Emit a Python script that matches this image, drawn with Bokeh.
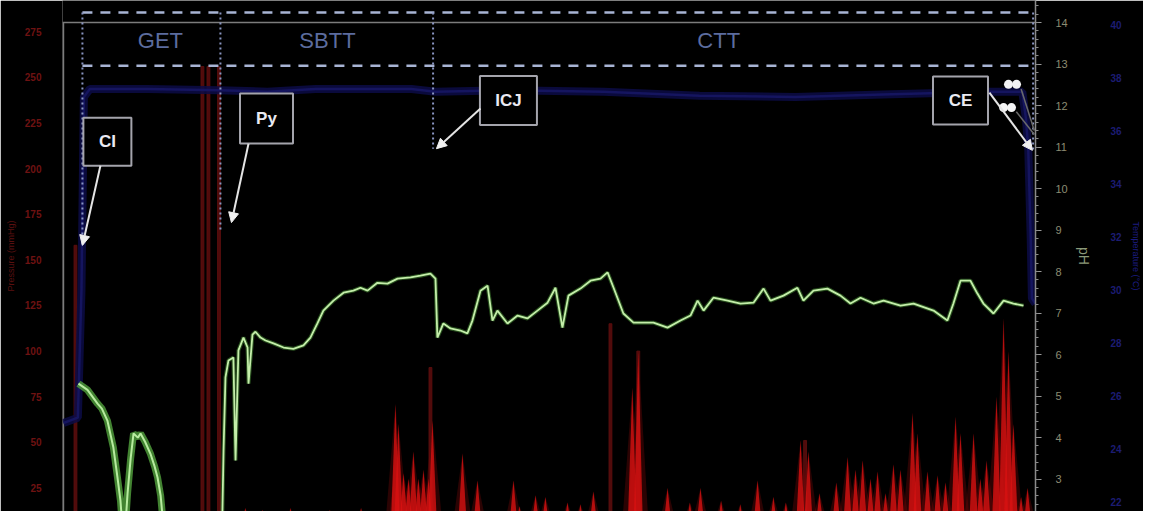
from bokeh.plotting import figure
from bokeh.models import (Range1d, LinearAxis, SingleIntervalTicker, Arrow,
                          NormalHead, ColumnDataSource)
from bokeh.embed import file_html
from bokeh.resources import INLINE
from bokeh.core.properties import value

# ---------------- data ----------------
# time in hours, pH values (green trace)
get_t = [0.125, 0.5, 0.92, 1.1, 1.33, 1.58, 1.75, 1.875, 2.0, 2.05, 2.17, 2.3,
         2.42, 2.6, 2.71, 2.9, 3.125, 3.3, 3.42, 3.55, 3.67, 3.8]
get_ph = [5.30, 5.15, 4.82, 4.70, 4.41, 3.76, 3.04, 2.48, 1.5, 1.6, 2.65, 3.5,
          4.10, 4.00, 4.10, 3.90, 3.61, 3.30, 3.04, 2.60, 1.83, 1.2]

ph_t = [6.1, 6.17, 6.25, 6.375, 6.58, 6.67, 6.79, 7.0, 7.17, 7.21, 7.375, 7.5,
        7.71, 7.92, 8.25, 8.67, 9.08, 9.5, 9.79, 10.08, 10.33, 10.75, 11.17,
        11.58, 11.875, 12.17, 12.58, 13.0, 13.42, 13.96, 14.375, 14.79, 15.0,
        15.08, 15.33, 15.625, 16.04, 16.33, 16.54, 16.875, 17.17, 17.375, 17.58,
        18.0, 18.42, 18.83, 19.25, 19.67, 20.0, 20.29, 20.54, 21.04, 21.46,
        21.875, 22.17, 22.42, 22.83, 23.25, 24.08, 24.67, 25.21, 25.625, 25.92,
        26.17, 26.58, 27.17, 27.71, 28.25, 28.67, 28.96, 29.5, 30.08, 30.33,
        30.75, 31.33, 31.875, 32.29, 32.71, 33.25, 33.67, 34.375, 34.92, 35.75,
        36.33, 36.58, 36.875, 37.29, 37.58, 37.83, 38.25, 38.67, 39.08, 39.5]
ph_v = [1.5, 3.69, 5.45, 5.86, 5.93, 3.45, 6.10, 6.41, 6.17, 5.30, 6.48, 6.55,
        6.41, 6.34, 6.27, 6.17, 6.14, 6.22, 6.41, 6.75, 7.06, 7.30, 7.49,
        7.54, 7.61, 7.54, 7.73, 7.71, 7.83, 7.86, 7.90, 7.95, 7.83,
        6.41, 6.75, 6.63, 6.58, 6.51, 6.82, 7.54, 7.66, 6.82, 7.06,
        6.75, 6.94, 6.87, 7.06, 7.25, 7.61, 6.65, 7.42, 7.59, 7.78,
        7.83, 7.98, 7.61, 6.99, 6.77, 6.77, 6.65, 6.82, 6.94, 7.30,
        7.06, 7.37, 7.30, 7.23, 7.25, 7.59, 7.30, 7.42, 7.61, 7.30,
        7.54, 7.59, 7.42, 7.23, 7.37, 7.23, 7.30, 7.18, 7.23, 7.06,
        6.82, 7.23, 7.78, 7.78, 7.47, 7.23, 6.99, 7.30, 7.23, 7.18]

# temperature (deg C, blue trace)
temp_t = [-0.5, 0.1, 0.25, 0.35, 0.6, 3.0, 6.0, 8.0, 10.0, 14.0, 15.0, 18.0,
          22.0, 26.0, 30.0, 34.0, 38.0, 39.45, 39.6, 39.7, 39.8, 39.85, 40.0]
temp_v = [25.0, 25.2, 30.0, 37.3, 37.6, 37.6, 37.55, 37.5, 37.6, 37.6, 37.5,
          37.55, 37.5, 37.35, 37.3, 37.4, 37.5, 37.5, 36.5, 35.3, 32.0, 29.7, 29.5]

# pressure spikes (mmHg)
press_t = [7.08, 7.79, 8.96, 10.6, 11.9, 13.33, 13.46, 13.67, 13.875, 14.08,
           14.29, 14.5, 14.71, 14.875, 16.125, 16.75, 18.25, 18.5, 19.17, 19.58,
           20.5, 21.04, 21.58, 23.2, 23.45, 24.67, 25.6, 26.04, 26.9, 27.7,
           28.42, 29.08, 29.6, 30.21, 30.54, 31.0, 31.7, 32.17, 32.5, 32.8,
           33.125, 33.42, 33.75, 34.08, 34.375, 34.875, 35.08, 35.5, 35.92,
           36.25, 36.67, 36.875, 37.42, 37.7, 37.96, 38.375, 38.67, 38.875,
           39.08, 39.4, 39.67]
press_v = [14.0, 13.0, 14.0, 13.0, 14.0, 71.0, 60.0, 33.0, 30.0, 45.0,
           30.0, 35.0, 30.0, 62.0, 44.0, 29.0, 29.0, 15.0, 21.0, 20.0,
           17.0, 16.0, 23.0, 80.0, 100.0, 25.0, 17.0, 25.0, 18.0, 16.0,
           29.0, 20.0, 17.0, 51.0, 45.0, 22.0, 28.0, 42.0, 35.0, 40.0,
           30.0, 34.0, 22.0, 38.0, 35.0, 66.0, 55.0, 34.0, 32.0,
           28.0, 64.0, 55.0, 55.0, 30.0, 40.0, 75.0, 118.0, 100.0,
           60.0, 20.0, 25.0]
dim_t = [0.0, 5.29, 5.54, 5.98, 14.79, 22.29, 23.45, 30.4]
dim_v = [158.0, 256.0, 256.0, 256.0, 91.0, 115.0, 100.0, 51.0]

# phases and events
phase_names = ["GET", "SBTT", "CTT"]
phase_t = [3.54, 10.5, 26.8]
phase_ph = [13.57, 13.57, 13.57]

event_names = ["CI", "Py", "ICJ", "CE"]
event_t = [0.29, 6.04, 14.9, 39.9]
event_bottom = [8.63, 9.0, 10.96, 10.9]
box_t = [1.33, 7.96, 18.04, 36.875]
box_ph = [11.13, 11.69, 12.12, 12.12]
arrow_t0 = [1.04, 7.21, 16.875, 38.08]
arrow_ph0 = [10.55, 11.08, 11.93, 12.31]
arrow_t1 = [0.29, 6.5, 15.04, 39.87]
arrow_ph1 = [8.63, 9.18, 10.96, 10.92]
ce_mark_t = [38.875, 39.21, 38.67, 39.0]
ce_mark_ph = [12.51, 12.51, 11.95, 11.95]

ph_label = "pH"
press_label = "Pressure (mmHg)"
temp_label = "Temperature (°C)"

# ---------------- figure ----------------
X0, X1 = -0.54, 40.0
PH0, PH1 = 2.22, 14.53
p = figure(width=1143, height=511, output_backend="svg", toolbar_location=None,
           x_range=Range1d(X0, X1), y_range=Range1d(PH0, PH1),
           x_axis_location=None, y_axis_location=None,
           background_fill_color="black", border_fill_color="black",
           min_border_left=62, min_border_right=108, min_border_top=0,
           min_border_bottom=0)
p.outline_line_color = None
p.grid.visible = False
p.extra_y_ranges = {"press": Range1d(12.06, 292.2), "temp": Range1d(21.66, 40.94)}

FONT = value("Liberation Sans")

# axes
pax = LinearAxis(y_range_name="press", ticker=SingleIntervalTicker(interval=25, num_minor_ticks=0),
                 axis_label=press_label)
pax.axis_line_color = None
pax.major_tick_line_color = None
pax.minor_tick_line_color = None
pax.major_label_text_color = "#6e1212"
pax.major_label_text_font_size = "10px"
pax.major_label_text_font_style = "bold"
pax.major_label_standoff = 15
pax.axis_label_text_color = "#5a1010"
pax.axis_label_text_font_size = "9px"
pax.axis_label_text_font_style = "normal"
pax.axis_label_standoff = 6
p.add_layout(pax, "left")

hax = LinearAxis(ticker=SingleIntervalTicker(interval=1, num_minor_ticks=5),
                 axis_label=ph_label)
hax.axis_line_color = "#8a8a8a"
hax.axis_line_width = 1.5
hax.major_tick_line_color = "#9a9a9a"
hax.minor_tick_line_color = "#8a8a8a"
hax.major_tick_out = 6
hax.major_tick_in = 0
hax.minor_tick_out = 3
hax.major_label_text_color = "#8c8c72"
hax.major_label_text_font_size = "11px"
hax.major_label_standoff = 14
hax.axis_label_text_color = "#8c9a7a"
hax.axis_label_text_font_size = "14px"
hax.axis_label_text_font_style = "normal"
hax.axis_label_standoff = 5
p.add_layout(hax, "right")

tax = LinearAxis(y_range_name="temp", ticker=SingleIntervalTicker(interval=2, num_minor_ticks=0),
                 axis_label=temp_label)
tax.axis_line_color = None
tax.major_tick_line_color = None
tax.minor_tick_line_color = None
tax.major_tick_out = 0
tax.major_tick_in = 0
tax.major_label_text_color = "#1c1c72"
tax.major_label_text_font_size = "10px"
tax.major_label_text_font_style = "bold"
tax.major_label_standoff = 16
tax.axis_label_text_color = "#1c1c80"
tax.axis_label_text_font_size = "9px"
tax.axis_label_text_font_style = "normal"
tax.axis_label_standoff = 6
p.add_layout(tax, "right")

# frame lines
p.segment(x0=[X0 + 0.04, X0], y0=[PH0, 14.0], x1=[X0 + 0.04, X1], y1=[14.0, 14.0],
          line_color="#7c7c7c", line_width=1.5)

# pressure
p.vbar(x=dim_t, top=dim_v, bottom=0, width=0.12, y_range_name="press",
       color="#5e0e0e", alpha=0.85)
glow_xs = [[t - 0.45, t, t + 0.45] for t in press_t]
core_xs = [[t - 0.2, t, t + 0.2] for t in press_t]
tri_ys = [[0, v, 0] for v in press_v]
p.patches(glow_xs, tri_ys, y_range_name="press", fill_color="#7a0a0a",
          fill_alpha=0.35, line_color=None)
p.patches(core_xs, tri_ys, y_range_name="press", fill_color="#d81212",
          fill_alpha=0.8, line_color=None)

# temperature (dim blue band)
p.line(temp_t, temp_v, y_range_name="temp", line_color="#0c0c46", line_width=8,
       line_alpha=0.85)
p.line(temp_t, temp_v, y_range_name="temp", line_color="#181868", line_width=2.5,
       line_alpha=0.8)

# pH
p.line(get_t, get_ph, line_color="#4e9a3a", line_width=7, line_alpha=0.85)
p.line(get_t, get_ph, line_color="#b8eca0", line_width=2)
p.line(ph_t, ph_v, line_color="#3f7f2e", line_width=4, line_alpha=0.6)
p.line(ph_t, ph_v, line_color="#c4eeaa", line_width=1.8)

# phase band dashed lines
p.segment(x0=[event_t[0]] * 2, y0=[14.24, 12.96], x1=[X1] * 2, y1=[14.24, 12.96],
          line_color="#a8b4d4", line_width=2.5, line_dash="10 8")

# event dotted lines
p.segment(x0=event_t, y0=[14.24] * 4, x1=event_t, y1=event_bottom,
          line_color="#8a96c2", line_width=2, line_dash="2 3")

# phase labels
p.text(x=phase_t, y=phase_ph, text=phase_names, text_align="center",
       text_baseline="middle", text_font=FONT, text_font_size="22px",
       text_color="#5c6c9e")

# event boxes
src = ColumnDataSource(dict(t=box_t, ph=box_ph, name=event_names,
                            w=[48, 53, 57, 55], h=[48, 50, 49, 48]))
p.rect(x="t", y="ph", width="w", height="h", width_units="screen",
       height_units="screen", fill_color="black", line_color="#a4a4ac",
       line_width=2, source=src)
p.text(x="t", y="ph", text="name", text_align="center", text_baseline="middle",
       text_font=FONT, text_font_style="bold", text_font_size="17px",
       text_color="#eaeaf2", source=src)

# arrows
asrc = ColumnDataSource(dict(x0=arrow_t0, y0=arrow_ph0, x1=arrow_t1, y1=arrow_ph1))
p.add_layout(Arrow(x_start="x0", y_start="y0", x_end="x1", y_end="y1", source=asrc,
                   line_color="#e4e4e4", line_width=2,
                   end=NormalHead(size=10, fill_color="#f0f0f0", line_color="#f0f0f0")))

# CE markers
p.scatter(ce_mark_t, ce_mark_ph, size=9, fill_color="#f4f4f4", line_color=None)
p.segment(x0=[39.4, 39.2], y0=[12.4, 11.85], x1=[39.95, 39.95], y1=[11.4, 11.3],
          line_color="#6a6a6a", line_width=1.5)

open("out.html", "w").write(file_html(p, INLINE))
